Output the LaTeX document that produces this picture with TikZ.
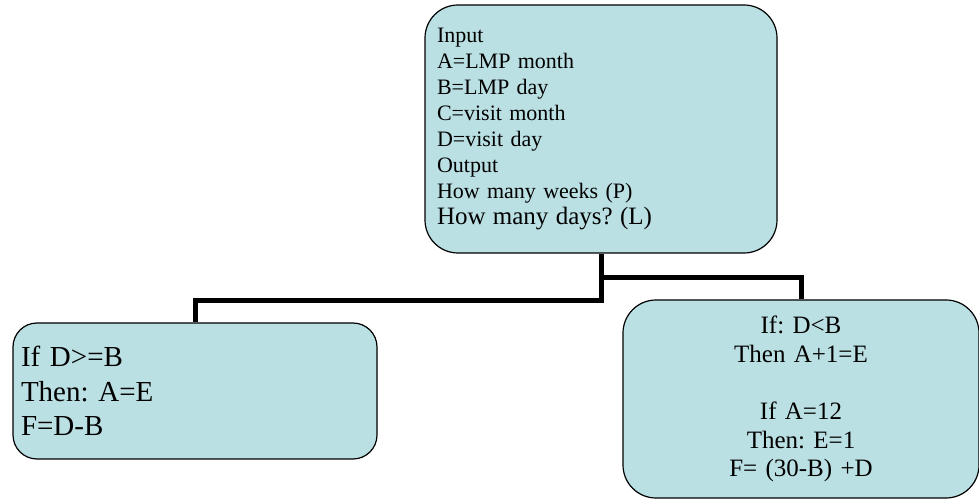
\documentclass[tikz,border=0pt]{standalone}
\usepackage{fontspec}
\setmainfont{Liberation Serif}
\frenchspacing
\definecolor{boxfill}{RGB}{187,224,227}
\begin{document}
\begin{tikzpicture}[x=1pt, y=1pt, line join=miter,
		box/.style={draw=black, line width=1.2, fill=boxfill, rounded corners=#1, inner ysep=0pt},
		box/.default=33pt,
		link/.style={line width=5}]
	\useasboundingbox (0,0) rectangle (979,500);
	\node[box, inner xsep=12pt, text width=328pt, minimum height=248pt, align=left, font=\fontsize{22}{26}\selectfont] (input) at (601,371)
	{Input\\A=LMP month\\B=LMP day\\C=visit month\\D=visit day\\Output\\How many weeks (P)\\\fontsize{25}{26}\selectfont How many days? (L)};
	\node[box=24pt, inner xsep=8pt, text width=348pt, minimum height=136pt, align=left, font=\fontsize{29}{34.5}\selectfont] (case1) at (195,109)
	{If D>=B\\Then: A=E\\F=D-B};
	\node[box, inner xsep=0pt, text width=356pt, minimum height=198pt, align=center, font=\fontsize{25}{28.7}\selectfont] (case2) at (801,101)
	{If: D<B\\Then A+1=E\\[28.7pt]If A=12\\Then: E=1\\F= (30-B) +D};
	\draw[link] (input.south) -- ++(0,-47) -| (case1.north);
	\draw[link] (input.south) ++(0,-24) -| (case2.north);
\end{tikzpicture}
\end{document}
